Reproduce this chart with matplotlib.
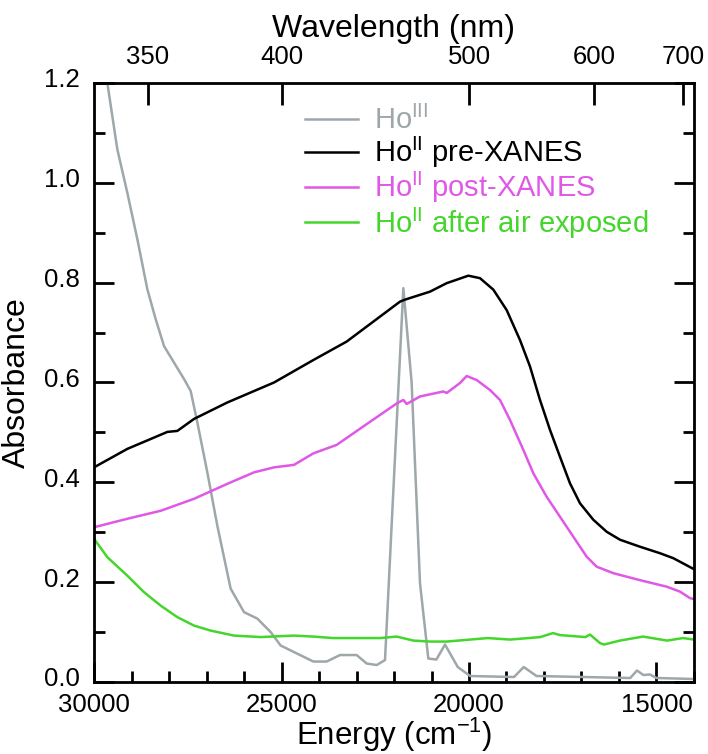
import matplotlib
matplotlib.use("Agg")
import matplotlib.pyplot as plt
import matplotlib.transforms as mtransforms
from matplotlib.ticker import MultipleLocator

plt.rcParams['font.family'] = ['Liberation Sans', 'DejaVu Sans']
plt.rcParams['mathtext.fontset'] = 'custom'
plt.rcParams['mathtext.rm'] = 'Liberation Sans'

# --- Data ---
ho3_e = [30000, 29644, 29378, 29111, 28844, 28578, 28356, 28133, 27867, 27600, 27422,
         27244, 26978, 26711, 26356, 26000, 25644, 25289, 25022, 24667, 24151, 23796,
         23440, 22996, 22729, 22462, 22240, 21751, 21529, 21307, 21085, 20870, 20640,
         20300, 19970, 18800, 18540, 18200, 15700, 15520, 15350, 15173, 15000, 14000]
ho3_a = [1.30, 1.20, 1.067, 0.98, 0.887, 0.787, 0.727, 0.673, 0.64, 0.607, 0.583,
         0.52, 0.42, 0.313, 0.187, 0.14, 0.127, 0.10, 0.073, 0.06, 0.041, 0.041,
         0.054, 0.054, 0.037, 0.034, 0.044, 0.789, 0.599, 0.198, 0.047, 0.045, 0.075,
         0.03, 0.012, 0.01, 0.03, 0.012, 0.008, 0.023, 0.014, 0.015, 0.008, 0.006]

pre_e = [30000, 29111, 28044, 27778, 27333, 26444, 25200, 24151, 23262, 22551, 21840,
         21707, 21040, 20595, 20018, 19707, 19351, 18995, 18640, 18373, 18107, 17840,
         17573, 17307, 17040, 16685, 16329, 15973, 15440, 14907, 14551, 14000]
pre_a = [0.43, 0.467, 0.501, 0.503, 0.527, 0.56, 0.60, 0.645, 0.682, 0.722, 0.762,
         0.766, 0.782, 0.799, 0.814, 0.809, 0.786, 0.745, 0.685, 0.632, 0.565, 0.505,
         0.451, 0.398, 0.358, 0.325, 0.301, 0.285, 0.271, 0.258, 0.248, 0.226]

post_e = [30000, 29111, 28222, 27333, 26444, 25733, 25200, 24667, 24151, 23529, 22818,
          21929, 21751, 21662, 21307, 20685, 20595, 20240, 20062, 19796, 19440, 19173,
          18907, 18551, 18284, 17929, 17573, 17218, 16862, 16595, 16151, 15440, 14729,
          14373, 14107, 14000]
post_a = [0.31, 0.327, 0.343, 0.367, 0.397, 0.42, 0.43, 0.435, 0.458, 0.475, 0.512,
          0.558, 0.565, 0.557, 0.572, 0.582, 0.579, 0.599, 0.613, 0.605, 0.585, 0.565,
          0.525, 0.465, 0.418, 0.371, 0.331, 0.291, 0.251, 0.231, 0.218, 0.204, 0.191,
          0.181, 0.168, 0.166]

air_e = [30000, 29644, 29111, 28667, 28222, 27778, 27333, 26889, 26267, 25556, 24667,
         24151, 23618, 22373, 21929, 21484, 21040, 20600, 19500, 18900, 18100, 17760,
         17572, 16900, 16773, 16507, 16400, 15973, 15360, 14720, 14293, 14000]
air_a = [0.287, 0.25, 0.213, 0.18, 0.153, 0.13, 0.113, 0.103, 0.093, 0.09, 0.093,
         0.091, 0.088, 0.088, 0.091, 0.083, 0.081, 0.081, 0.088, 0.085, 0.09, 0.098,
         0.094, 0.09, 0.095, 0.078, 0.075, 0.083, 0.091, 0.083, 0.088, 0.085]

wl_ticks = [350, 400, 500, 600, 700]

fig = plt.figure(figsize=(7.08, 7.54), dpi=100)
ax = fig.add_axes([94 / 708, 72 / 754, 600 / 708, 599 / 754])

ax.plot(ho3_e, ho3_a, color='#9ea7aa', lw=1.8, label=r'Ho$^{\mathrm{III}}$')
ax.plot(pre_e, pre_a, color='black', lw=1.8, label=r'Ho$^{\mathrm{II}}$ pre-XANES')
ax.plot(post_e, post_a, color='#e058e6', lw=1.8, label=r'Ho$^{\mathrm{II}}$ post-XANES')
ax.plot(air_e, air_a, color='#45d62c', lw=1.8, label=r'Ho$^{\mathrm{II}}$ after air exposed')

ax.set_xlim(30000, 14000)
ax.set_ylim(0, 1.2)
ax.xaxis.set_major_locator(MultipleLocator(5000))
ax.xaxis.set_minor_locator(MultipleLocator(1000))
ax.yaxis.set_major_locator(MultipleLocator(0.2))
ax.yaxis.set_minor_locator(MultipleLocator(0.1))
ax.yaxis.set_major_formatter(plt.FuncFormatter(lambda v, p: f'{v:.1f}'))
ax.tick_params(which='both', direction='in', labelsize=18.5, width=2, right=True)
ax.tick_params(which='major', length=14.5)
ax.tick_params(which='minor', length=8)
ax.tick_params(axis='y', which='both', pad=10)
ax.tick_params(axis='x', which='both', pad=8)
for s in ax.spines.values():
    s.set_linewidth(2)

# y tick labels sit a little above their ticks in the original
lift = mtransforms.ScaledTranslation(0, 5 / 100, fig.dpi_scale_trans)
for t in ax.yaxis.get_major_ticks():
    t.label1.set_transform(t.label1.get_transform() + lift)

ax.set_xlabel('Energy (cm$^{-1}$)', fontsize=22.5, labelpad=-1)
ax.set_ylabel('Absorbance', fontsize=23, labelpad=9)

# top wavelength axis
ax2 = ax.twiny()
ax2.set_xlim(ax.get_xlim())
ax2.set_xticks([1e7 / w for w in wl_ticks])
ax2.set_xticklabels([str(w) for w in wl_ticks])
ax2.tick_params(direction='in', labelsize=18.5, width=2, length=16, pad=10)
ax2.set_xlabel('Wavelength (nm)', fontsize=23, labelpad=6)

ax.legend(loc='upper left', bbox_to_anchor=(0.352, 0.962), frameon=False,
          fontsize=21, handlelength=1.8, handletextpad=0.55, labelspacing=0.0,
          labelcolor='linecolor', borderaxespad=0, borderpad=0)

fig.savefig('out.png', dpi=100)
